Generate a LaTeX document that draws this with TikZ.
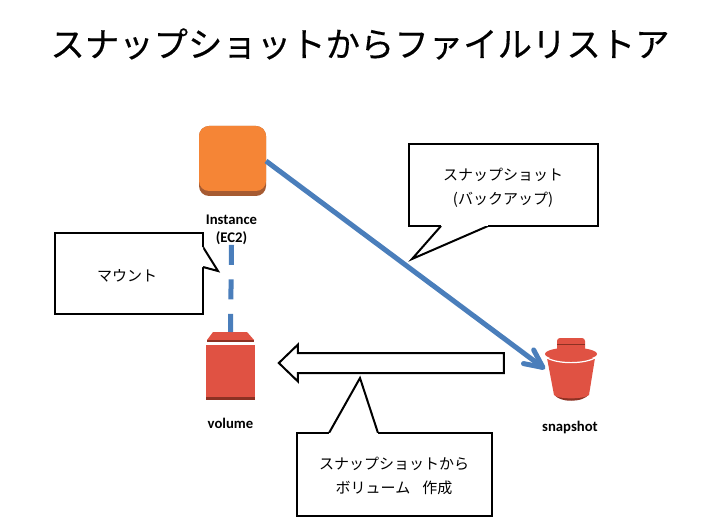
\documentclass[tikz,border=0pt]{standalone}
\usepackage{fontspec}
\setmainfont{Noto Sans CJK JP}
\newfontfamily\titlefont[FakeBold=0.35]{Noto Sans CJK JP}
\newfontfamily\iconfont{Carlito}
\usetikzlibrary{arrows.meta,shapes.arrows}
\definecolor{awsorange}{HTML}{F58536}
\definecolor{awsorangedark}{HTML}{A65B32}
\definecolor{awsred}{HTML}{E05243}
\definecolor{awsreddark}{HTML}{8C3123}
\definecolor{linkblue}{HTML}{4A7EBB}
\begin{document}
\begin{tikzpicture}[x=1pt,y=-1pt,
		every node/.style={inner sep=0pt,outer sep=0pt},
		titletext/.style={font=\titlefont\fontsize{34.4}{40}\selectfont},
		calloutbox/.style={draw=black,line width=2pt,fill=white},
		calloutlabel/.style={align=center,font=\fontsize{15}{24}\selectfont},
		callouttail/.style={draw=black,line width=2pt,fill=white,miter limit=20},
		icontext/.style={align=center,font=\iconfont\bfseries\fontsize{14.7}{18}\selectfont},
		bluelink/.style={draw=linkblue,line width=5pt}]
		\useasboundingbox (0,0) rectangle (727,529);
		
		\node[titletext] (title) at (360,44) {スナップショットからファイルリストア};
		
		% icons
		\node[minimum width=67pt,minimum height=70pt] (instance) at (232.5,161) {};
		\fill[awsorangedark,rounded corners=10pt] (199,126) rectangle (266,196);
		\fill[awsorange,rounded corners=10pt] (199,126) rectangle (266,191);
		\node[icontext] (instancelabel) at (231.5,230) {Instance\\(EC2)};
		
		\node[minimum width=48pt,minimum height=68pt] (volume) at (230.5,366) {};
		\fill[awsred] (213,332) -- (247,332) -- (254,340) -- (207,340) -- cycle;
		\fill[awsreddark] (207,340) rectangle (254,342);
		\fill[awsred] (206,345) rectangle (254.5,397);
		\fill[awsreddark] (206,397) rectangle (254.5,400);
		\node[icontext] (volumelabel) at (230.5,423) {volume};
		
		\node[minimum width=52pt,minimum height=63pt] (snapshot) at (571,369) {};
		\fill[awsred,rounded corners=3pt] (557,352) -- (557,338) -- (585,338) -- (585,352) -- cycle;
		\draw[awsreddark,line width=.6pt] (557,344.5) -- (585,344.5);
		\fill[awsreddark] (554,394) .. controls (558,403) and (584,403) .. (589,394) -- cycle;
		\fill[awsred] (547,358) -- (554,395) .. controls (558,399.5) and (584,399.5) .. (589,395) -- (595,358) -- cycle;
		\fill[awsred] (571,354) ellipse (26pt and 6.5pt);
		\draw[white,line width=1.2pt] (545.5,357) .. controls (556,364.5) and (586,364.5) .. (596.5,357);
		\node[icontext] (snapshotlabel) at (570,427) {snapshot};
		
		% links
		\draw[bluelink,-{Straight Barb[length=18pt,width=17pt,line width=5pt,round]}] (instance.east) to (snapshot.west);
		\draw[bluelink,dash pattern=on 20pt off 14.5pt] (instancelabel.south) to (volume.north);
		
		% create arrow
		\node[draw=black,line width=2pt,fill=white,single arrow,shape border rotate=180,
			inner ysep=9pt,minimum height=225pt,minimum width=35pt,single arrow head extend=8.5pt,
			single arrow tip angle=88,single arrow head indent=0pt] (createarrow) at (396.5,363) {};
		
		% callouts
		\node[calloutbox,minimum width=148pt,minimum height=81pt] (mount) at (129,273.5) {};
		\node[calloutlabel] (mounttext) at (127,275.5) {マウント};
		\draw[callouttail] (203,247) -- (218,271) -- (203,267);
		\fill[white] (203,247) -- (201,248) -- (201,267) -- (203,267) -- cycle;
		
		\node[calloutbox,minimum width=189.5pt,minimum height=82pt] (backup) at (503.25,185) {};
		\node[calloutlabel] (backuptext) at (503,188) {スナップショット\\(バックアップ)};
		\draw[callouttail] (441,226) -- (412,259) -- (488,226);
		\fill[white] (441,226) -- (441,224) -- (488,224) -- (488,226) -- cycle;
		
		\node[calloutbox,minimum width=195pt,minimum height=83pt] (create) at (394.5,474.5) {};
		\node[calloutlabel] (createtext) at (394,476) {スナップショットから\\ボリューム\hspace{.8em}作成};
		\draw[callouttail] (329,433) -- (360,378) -- (378,433);
		\fill[white] (329,433) -- (329,435) -- (378,435) -- (378,433) -- cycle;
		\end{tikzpicture}
\end{document}
